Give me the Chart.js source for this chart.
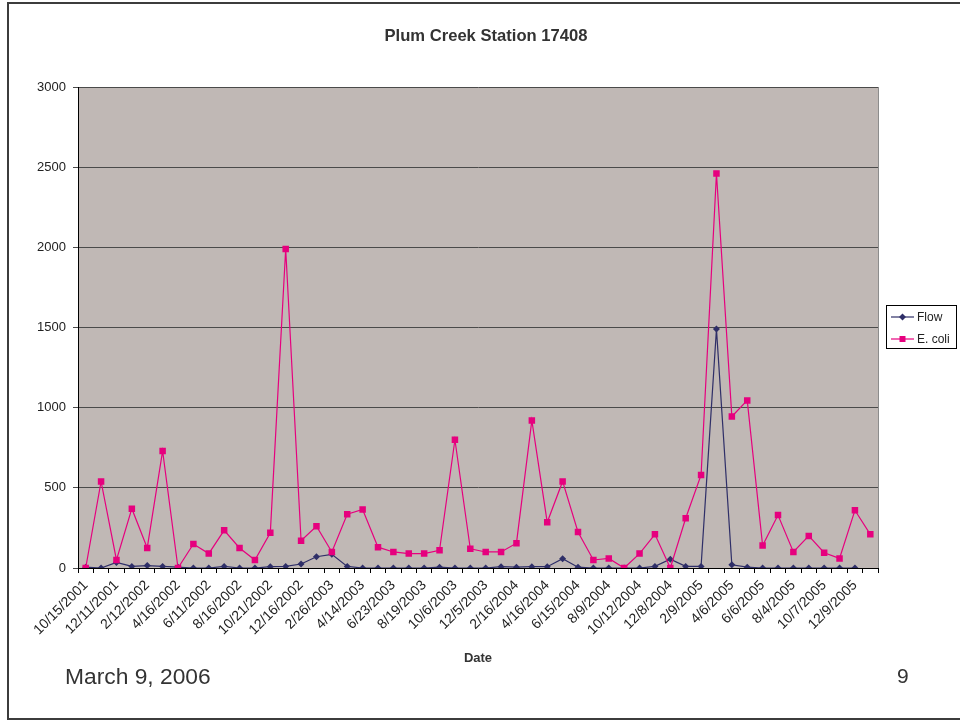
<!DOCTYPE html>
<html>
<head>
<meta charset="utf-8">
<script src="https://cdn.jsdelivr.net/npm/chart.js@4/dist/chart.umd.min.js"></script>
<style>
  body { margin: 0; background: #fff; }
  #wrap { position: relative; width: 960px; height: 721px; overflow: hidden; font-family: "Liberation Sans", Arial, sans-serif; }
  #frame { position: absolute; left: 7px; top: 2px; width: 980px; height: 718px; border: 2px solid #3c3c3c; box-sizing: border-box; }
  #chart { position: absolute; left: 0; top: 0; }
  .txt { position: absolute; color: #333; white-space: nowrap; }
  #title { left: 486px; top: 36px; transform: translate(-50%, -50%); font-weight: bold; font-size: 16.6px; }
  #date { left: 65px; top: 676px; transform: translateY(-50%); font-size: 22.8px; }
  #page { left: 897px; top: 676px; transform: translateY(-50%); font-size: 21px; }
</style>
</head>
<body>
<div id="wrap">
  <div id="frame"></div>
  <canvas id="chart" width="960" height="721"></canvas>
  <div class="txt" id="title">Plum Creek Station 17408</div>
  <div class="txt" id="date">March 9, 2006</div>
  <div class="txt" id="page">9</div>
</div>
<script>
// Beschriftung jeder zweiten Messung (Datum)
const tickDates = ['10/15/2001', '12/11/2001', '2/12/2002', '4/16/2002', '6/11/2002', '8/16/2002',
  '10/21/2002', '12/16/2002', '2/26/2003', '4/14/2003', '6/23/2003', '8/19/2003', '10/6/2003',
  '12/5/2003', '2/16/2004', '4/16/2004', '6/15/2004', '8/9/2004', '10/12/2004', '12/8/2004',
  '2/9/2005', '4/6/2005', '6/6/2005', '8/4/2005', '10/7/2005', '12/9/2005'];

const flow = [5, 0, 35, 10, 15, 10, 5, 0, 0, 10, 0, 0, 8, 10, 25, 70, 85, 10, 0, 0, 0, 0, 0, 5, 0, 0,
  0, 8, 5, 8, 8, 58, 5, 0, 0, 0, 0, 10, 55, 10, 10, 1490, 20, 5, 0, 0, 0, 0, 0, 0, 0, null];
const ecoli = [0, 540, 50, 370, 125, 730, 0, 150, 90, 235, 125, 50, 220, 1990, 170, 260, 100, 335,
  365, 130, 100, 90, 90, 110, 800, 120, 100, 100, 155, 920, 285, 540, 225, 50, 60, 0, 90, 210, 0,
  310, 580, 2460, 945, 1045, 140, 330, 100, 200, 95, 60, 360, 210];

const yTicks = [0, 500, 1000, 1500, 2000, 2500, 3000];

// Kategorien: jede zweite ohne Beschriftung
const labels = [];
tickDates.forEach(d => { labels.push(d); labels.push(''); });

const FONT = '"Liberation Sans", Arial, sans-serif';
const flowColor = '#2f2f68';
const ecoliColor = '#e6007e';

// Hintergrund der Zeichenfläche
const plotBg = {
  id: 'plotBg',
  beforeDraw(chart) {
    const { ctx, chartArea: a } = chart;
    ctx.save();
    ctx.fillStyle = '#c0b8b5';
    ctx.fillRect(a.left, a.top, a.right - a.left, a.bottom - a.top);
    ctx.strokeStyle = '#8c8c8c';
    ctx.lineWidth = 1;
    ctx.beginPath();
    ctx.moveTo(a.right + 0.5, a.top);
    ctx.lineTo(a.right + 0.5, a.bottom);
    ctx.stroke();
    ctx.restore();
  }
};

// Legende mit Rahmen rechts
const boxLegend = {
  id: 'boxLegend',
  afterDraw(chart) {
    const ctx = chart.ctx;
    ctx.save();
    ctx.fillStyle = '#fff';
    ctx.fillRect(886.5, 305.5, 70, 43);
    ctx.strokeStyle = '#000';
    ctx.lineWidth = 1;
    ctx.strokeRect(886.5, 305.5, 70, 43);
    chart.data.datasets.forEach((ds, i) => {
      const y = 317 + i * 22;
      ctx.strokeStyle = ds.borderColor;
      ctx.lineWidth = 1.2;
      ctx.beginPath();
      ctx.moveTo(891, y);
      ctx.lineTo(914, y);
      ctx.stroke();
      ctx.fillStyle = ds.pointBackgroundColor;
      ctx.beginPath();
      if (ds.pointStyle === 'rect') {
        ctx.rect(899.5, y - 3, 6, 6);
      } else {
        ctx.moveTo(902.5, y - 3.5);
        ctx.lineTo(906, y);
        ctx.lineTo(902.5, y + 3.5);
        ctx.lineTo(899, y);
        ctx.closePath();
      }
      ctx.fill();
      ctx.fillStyle = '#222';
      ctx.font = '12px ' + FONT;
      ctx.textBaseline = 'middle';
      ctx.fillText(ds.label, 917, y + 0.5);
    });
    ctx.restore();
  }
};

new Chart(document.getElementById('chart'), {
  type: 'line',
  data: {
    labels: labels,
    datasets: [
      {
        label: 'Flow',
        data: flow,
        borderColor: flowColor,
        backgroundColor: flowColor,
        pointBackgroundColor: flowColor,
        pointBorderWidth: 0,
        pointStyle: 'rectRot',
        pointRadius: 3.5,
        borderWidth: 1.2,
        tension: 0,
        order: 1,
      },
      {
        label: 'E. coli',
        data: ecoli,
        borderColor: ecoliColor,
        backgroundColor: ecoliColor,
        pointBackgroundColor: ecoliColor,
        pointBorderWidth: 0,
        pointStyle: 'rect',
        pointRadius: 4.6,
        borderWidth: 1.2,
        tension: 0,
        order: 0,
      },
    ],
  },
  options: {
    responsive: false,
    animation: false,
    layout: { padding: { top: 87, right: 82, bottom: 0, left: 0 } },
    plugins: {
      legend: { display: false },
      tooltip: { enabled: false },
    },
    scales: {
      x: {
        offset: true,
        afterFit: scale => { scale.height = 153; },
        grid: { offset: true, drawOnChartArea: false, drawTicks: true, tickLength: 5, color: '#000' },
        border: { color: '#000', width: 1 },
        ticks: {
          autoSkip: false,
          maxRotation: 45,
          minRotation: 45,
          padding: 4,
          color: '#222',
          font: { family: FONT, size: 14 },
          callback: (v, i) => labels[i],
        },
        title: {
          display: true,
          text: 'Date',
          color: '#333',
          font: { family: FONT, size: 13, weight: 'bold' },
          padding: { top: 0, bottom: 55 },
        },
      },
      y: {
        min: yTicks[0],
        max: yTicks[yTicks.length - 1],
        afterFit: scale => { scale.width = 78; },
        afterBuildTicks: scale => { scale.ticks = yTicks.map(v => ({ value: v })); },
        grid: { color: '#4a4a4a', lineWidth: 1, tickLength: 5 },
        border: { color: '#000', width: 1 },
        ticks: {
          padding: 7,
          color: '#222',
          font: { family: FONT, size: 13 },
          callback: v => String(v),
        },
      },
    },
  },
  plugins: [plotBg, boxLegend],
});
</script>
</body>
</html>
